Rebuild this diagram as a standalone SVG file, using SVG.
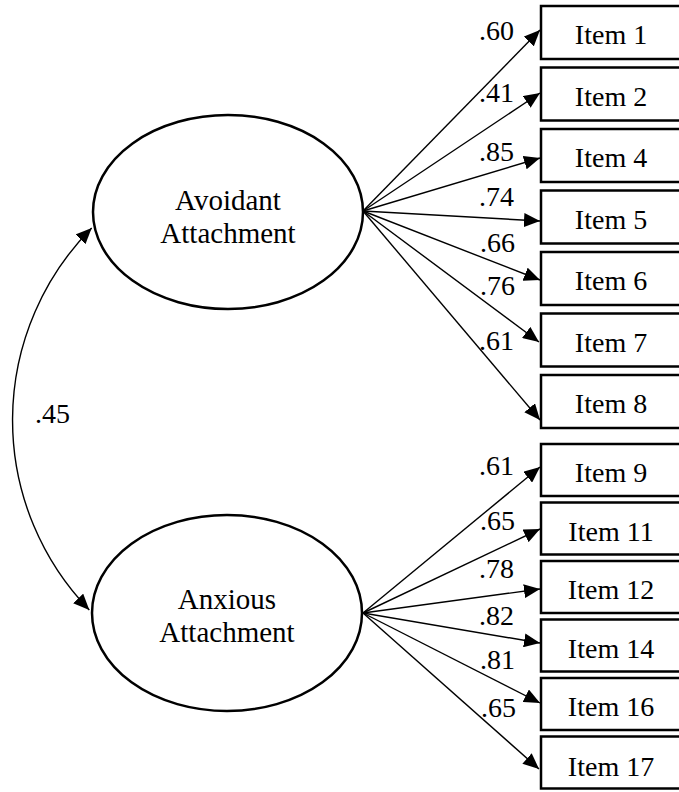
<svg xmlns="http://www.w3.org/2000/svg" width="679" height="792" viewBox="0 0 679 792">
<defs>
<marker id="ah" viewBox="0 0 16 14" refX="16" refY="7" markerWidth="16" markerHeight="14" markerUnits="userSpaceOnUse" orient="auto-start-reverse"><path d="M0,0 L16,7 L0,14 z" fill="#000"/></marker>
<style>
.box{fill:#fff;stroke:#000;stroke-width:2.5}
.lat{fill:#fff;stroke:#000;stroke-width:2.5}
text{font-family:"Liberation Serif","Times New Roman",serif;fill:#000}
.it{font-size:28px;text-anchor:middle}
.lb{font-size:28px;text-anchor:end}
.ln{font-size:29px;text-anchor:middle}
.c line,.c path{stroke:#000;stroke-width:1.4;fill:none;marker-end:url(#ah)}
.c path{marker-start:url(#ah)}
</style>
</defs>
<rect width="679" height="792" fill="#fff"/>

<g id="avoidant"><ellipse class="lat" cx="228" cy="212" rx="135" ry="97"/><text class="ln" x="228" y="210">Avoidant</text><text class="ln" x="228" y="243">Attachment</text></g>
<g id="anxious"><ellipse class="lat" cx="227" cy="613" rx="135" ry="98"/><text class="ln" x="227" y="609">Anxious</text><text class="ln" x="227" y="642">Attachment</text></g>

<g id="item1"><rect class="box" x="541" y="6" width="140" height="53"/><text class="it" x="611" y="44">Item 1</text></g>
<g id="item2"><rect class="box" x="541" y="67.5" width="140" height="53"/><text class="it" x="611" y="105.5">Item 2</text></g>
<g id="item4"><rect class="box" x="541" y="129" width="140" height="53"/><text class="it" x="611" y="167">Item 4</text></g>
<g id="item5"><rect class="box" x="541" y="190.5" width="140" height="53"/><text class="it" x="611" y="228.5">Item 5</text></g>
<g id="item6"><rect class="box" x="541" y="252" width="140" height="53"/><text class="it" x="611" y="290">Item 6</text></g>
<g id="item7"><rect class="box" x="541" y="313.5" width="140" height="53"/><text class="it" x="611" y="351.5">Item 7</text></g>
<g id="item8"><rect class="box" x="541" y="375" width="140" height="53"/><text class="it" x="611" y="413">Item 8</text></g>
<g id="item9"><rect class="box" x="541" y="444" width="140" height="52"/><text class="it" x="611" y="482">Item 9</text></g>
<g id="item11"><rect class="box" x="541" y="502.5" width="140" height="52"/><text class="it" x="611" y="540.5">Item 11</text></g>
<g id="item12"><rect class="box" x="541" y="561" width="140" height="52"/><text class="it" x="611" y="599">Item 12</text></g>
<g id="item14"><rect class="box" x="541" y="619.5" width="140" height="52"/><text class="it" x="611" y="657.5">Item 14</text></g>
<g id="item16"><rect class="box" x="541" y="678" width="140" height="52"/><text class="it" x="611" y="716">Item 16</text></g>
<g id="item17"><rect class="box" x="541" y="736.5" width="140" height="52"/><text class="it" x="611" y="776">Item 17</text></g>

<g id="connectors" class="c">
<line x1="363" y1="211" x2="540" y2="30"/>
<line x1="363" y1="211" x2="540" y2="93"/>
<line x1="363" y1="211" x2="540" y2="158"/>
<line x1="363" y1="211" x2="540" y2="221"/>
<line x1="363" y1="211" x2="540" y2="280"/>
<line x1="363" y1="211" x2="539" y2="342"/>
<line x1="363" y1="211" x2="540" y2="420"/>
<line x1="363" y1="613" x2="540" y2="467"/>
<line x1="363" y1="613" x2="540" y2="529"/>
<line x1="363" y1="613" x2="540" y2="589"/>
<line x1="363" y1="613" x2="540" y2="643"/>
<line x1="363" y1="613" x2="540" y2="703"/>
<line x1="363" y1="613" x2="539" y2="769"/>
<path d="M91.7,228 A273,273 0 0 0 89.3,610"/>
</g>

<g id="labels">
<text class="lb" x="514" y="40">.60</text>
<text class="lb" x="514" y="101.5">.41</text>
<text class="lb" x="514" y="161">.85</text>
<text class="lb" x="514" y="206">.74</text>
<text class="lb" x="515" y="251.5">.66</text>
<text class="lb" x="515" y="295">.76</text>
<text class="lb" x="514" y="350">.61</text>
<text class="lb" x="514" y="475">.61</text>
<text class="lb" x="515" y="530">.65</text>
<text class="lb" x="514" y="578">.78</text>
<text class="lb" x="514" y="625">.82</text>
<text class="lb" x="515" y="669">.81</text>
<text class="lb" x="516" y="717">.65</text>
<text class="lb" x="70" y="423">.45</text>
</g>
</svg>
